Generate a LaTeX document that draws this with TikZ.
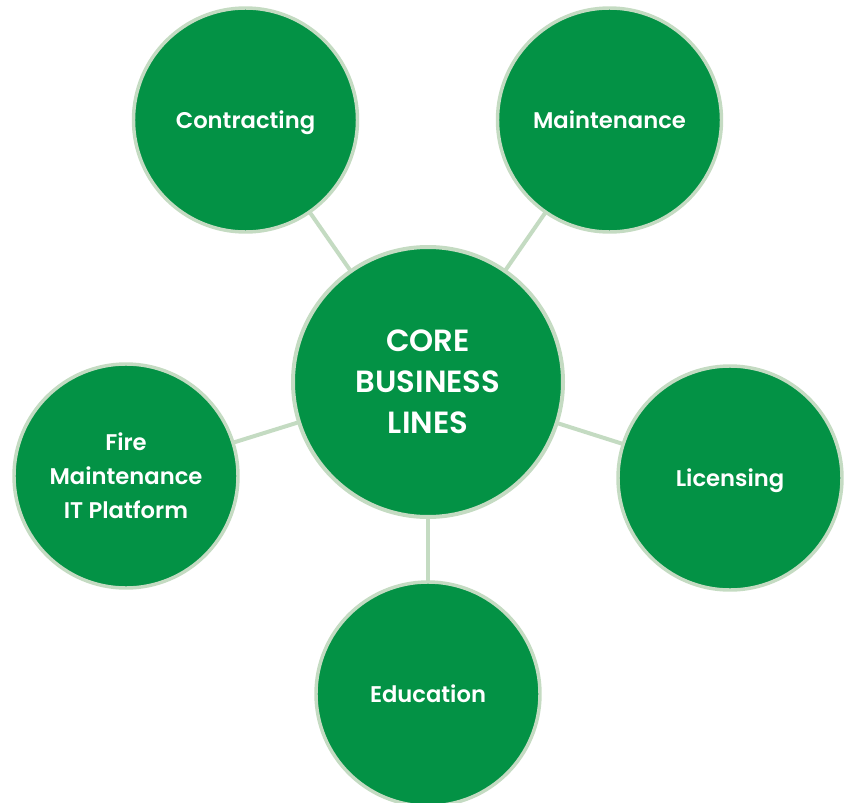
\documentclass[tikz,border=0pt]{standalone}
\usepackage{fontspec}
\setmainfont{Poppins}[UprightFont=* SemiBold]
\definecolor{cfill}{RGB}{3,146,69}
\definecolor{cline}{RGB}{196,219,194}
\begin{document}
\begin{tikzpicture}[x=0.75pt,y=-0.75pt,
  hub/.style={circle,fill=cfill,draw=cline,line width=3pt,minimum size=270*0.75pt,inner sep=0pt,
    text=white,align=center,font=\fontsize{23}{30.75}\selectfont},
  spoke/.style={circle,fill=cfill,draw=cline,line width=2.6pt,minimum size=224*0.75pt,inner sep=0pt,
    text=white,align=center,text depth=0pt,font=\fontsize{17}{25.5}\selectfont},
  link/.style={draw=cline,line width=3pt}]
\useasboundingbox (0,0) rectangle (851,803);
\clip (0,0) rectangle (851,803);
\coordinate (hc) at (428,382);
\coordinate (c1) at (245.5,120);
\coordinate (c2) at (609.5,120);
\coordinate (c3) at (126,476);
\coordinate (c4) at (730,478);
\coordinate (c5) at (428,694);
\draw[link] (hc) -- (c1);
\draw[link] (hc) -- (c2);
\draw[link] (hc) -- (c3);
\draw[link] (hc) -- (c4);
\draw[link] (hc) -- (c5);
\node[hub] (core) at (hc) {CORE\\BUSINESS\\LINES};
\node[spoke] (contracting) at (c1) {Contracting};
\node[spoke] (maintenance) at (c2) {Maintenance};
\node[spoke] (fire) at (c3) {Fire\\Maintenance\\IT Platform};
\node[spoke] (licensing) at (c4) {Licensing};
\node[spoke] (education) at (c5) {Education};
\end{tikzpicture}
\end{document}
